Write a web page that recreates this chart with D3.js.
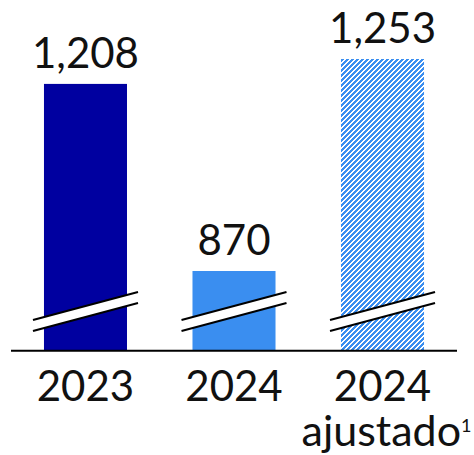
<!DOCTYPE html>
<html>
<head>
<meta charset="utf-8">
<script src="https://cdn.jsdelivr.net/npm/d3@7"></script>
<style>
html,body{margin:0;padding:0;background:#fff;}
svg{display:block;}
text{font-family:Lato, "Open Sans", sans-serif;fill:#111;}
</style>
</head>
<body>
<svg id="chart" width="474" height="455"></svg>
<script>
// Data
const categories = ["2023", "2024", "2024"];
const subLabels = ["", "", "ajustado"];
const superscripts = ["", "", "1"];
const values = [1208, 870, 1253];
const valueLabels = ["1,208", "870", "1,253"];
const barStyles = ["solid-dark", "solid-light", "hatch"];
const axisBreakStart = 726; // value at baseline (broken axis)

const W = 474, H = 455;
const baseline = 350.7;
const svg = d3.select("#chart");

const xb = d3.scaleBand().domain(d3.range(values.length))
  .range([11, 457]).paddingInner(0.441).paddingOuter(0.222);
const y = d3.scaleLinear().domain([axisBreakStart, 1253]).range([baseline, 59]);

const colors = {"solid-dark": "#0000A0", "solid-light": "#3A8EF0"};

const defs = svg.append("defs");
const P = 5;
const pat = defs.append("pattern").attr("id", "hatch")
  .attr("patternUnits", "userSpaceOnUse")
  .attr("width", P).attr("height", P);
pat.append("rect").attr("width", P).attr("height", P).attr("fill", "#fff");
for (let yy = 0; yy < P; yy++) {
  for (let k = 0; k < 3; k++) {
    const xx = ((k - yy) % P + P) % P;
    pat.append("rect").attr("x", xx).attr("y", yy).attr("width", 1).attr("height", 1)
      .attr("fill", "#3A8EF0").attr("shape-rendering", "crispEdges");
  }
}

const g = svg.append("g");

// Bars
g.selectAll("rect.bar").data(values).join("rect")
  .attr("class", "bar")
  .attr("x", (d, i) => xb(i))
  .attr("width", xb.bandwidth())
  .attr("y", d => y(d))
  .attr("height", d => baseline - y(d))
  .attr("fill", (d, i) => barStyles[i] === "hatch" ? "url(#hatch)" : colors[barStyles[i]]);

// Break marks
const ext = 11, rise = 28, gap = 11;
values.forEach((d, i) => {
  const x0 = xb(i) - ext, x1 = xb(i) + xb.bandwidth() + ext;
  const yL = 320, yR = yL - rise;
  g.append("path")
    .attr("d", `M${x0},${yL}L${x1},${yR}L${x1},${yR + gap}L${x0},${yL + gap}Z`)
    .attr("fill", "#fff");
  g.append("line").attr("x1", x0).attr("y1", yL).attr("x2", x1).attr("y2", yR)
    .attr("stroke", "#000").attr("stroke-width", 2);
  g.append("line").attr("x1", x0).attr("y1", yL + gap).attr("x2", x1).attr("y2", yR + gap)
    .attr("stroke", "#000").attr("stroke-width", 2);
});

// Axis baseline
g.append("line").attr("x1", 11).attr("x2", 457)
  .attr("y1", baseline).attr("y2", baseline)
  .attr("stroke", "#000").attr("stroke-width", 2);

// Value labels
g.selectAll("text.val").data(values).join("text")
  .attr("class", "val")
  .attr("x", (d, i) => xb(i) + xb.bandwidth() / 2)
  .attr("y", d => y(d) - 16)
  .attr("text-anchor", "middle")
  .attr("font-size", 42)
  .text((d, i) => valueLabels[i]);

// Category labels (with optional second line as tspans of same text)
categories.forEach((c, i) => {
  const cx = xb(i) + xb.bandwidth() / 2;
  const t = g.append("text")
    .attr("class", "cat")
    .attr("x", cx)
    .attr("y", 401)
    .attr("text-anchor", "middle")
    .attr("font-size", 42);
  t.append("tspan").attr("x", cx).text(c);
  if (subLabels[i]) {
    const line2 = t.append("tspan").attr("x", cx + 4).attr("dy", 45).attr("font-size", 43);
    line2.append("tspan").text(subLabels[i]);
    line2.append("tspan").attr("font-size", 18).attr("dy", -14).text(superscripts[i]);
  }
});
</script>
</body>
</html>
